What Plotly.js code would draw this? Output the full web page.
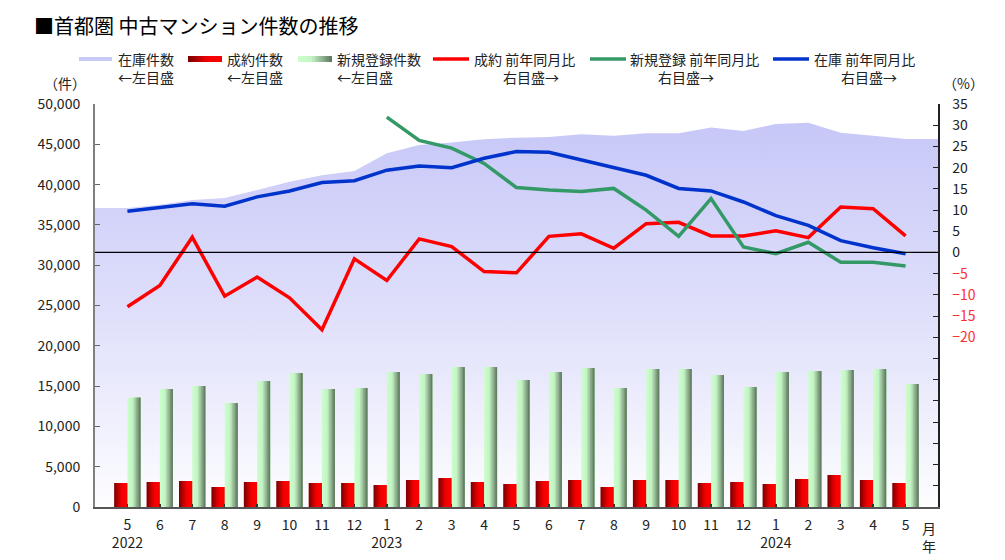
<!DOCTYPE html>
<html>
<head>
<meta charset="utf-8">
<script src="https://cdn.plot.ly/plotly-3.0.1.min.js"></script>
<style>
html,body{margin:0;padding:0;background:#fff;}
#chart{width:1005px;height:560px;}
</style>
</head>
<body>
<div id="chart"></div>
<script>
// ---------- data ----------
const months = ["5","6","7","8","9","10","11","12","1","2","3","4","5","6","7","8","9","10","11","12","1","2","3","4","5"];
const years  = ["2022","","","","","","","","2023","","","","","","","","","","","","2024","","","",""];
// 在庫件数 (left axis)
const inventory = [37100,37500,38100,38350,39330,40360,41150,41700,43880,44910,45230,45620,45820,45900,46240,46050,46360,46360,47080,46650,47520,47680,46440,46070,45660];
// 成約件数 (left axis)
const contracts = [2980,3100,3230,2480,3100,3230,2980,2980,2730,3350,3600,3100,2850,3230,3350,2480,3350,3350,2980,3100,2850,3470,3970,3350,2980];
// 新規登録件数 (left axis)
const newListings = [13560,14640,15010,12900,15630,16620,14640,14760,16750,16500,17370,17370,15760,16750,17250,14760,17120,17120,16380,14890,16750,16870,17000,17120,15260];
// 成約 前年同月比 (right axis, %)
const contractsYoY = [-12.8,-7.8,3.6,-10.3,-5.8,-10.7,-18.2,-1.5,-6.6,3.2,1.4,-4.5,-4.8,3.8,4.4,1.0,6.8,7.1,3.9,3.9,5.1,3.5,10.7,10.3,3.9];
// 新規登録 前年同月比 (right axis, %)
const newListingsYoY = [null,null,null,null,null,null,null,null,31.9,26.4,24.6,21.0,15.3,14.7,14.4,15.1,10.0,3.8,12.7,1.3,-0.3,2.4,-2.3,-2.3,-3.2];
// 在庫 前年同月比 (right axis, %)
const inventoryYoY = [9.7,10.6,11.5,10.9,13.1,14.5,16.5,16.9,19.4,20.4,20.0,22.2,23.8,23.6,21.8,20.2,18.2,15.1,14.5,11.9,8.7,6.4,2.8,1.1,-0.3];

const leftTicks = [0,5000,10000,15000,20000,25000,30000,35000,40000,45000,50000];
const rightTicks = [-60,-55,-50,-45,-40,-35,-30,-25,-20,-15,-10,-5,0,5,10,15,20,25,30,35];

// ---------- helpers ----------
const idx = months.map((_, i) => i);
const tickText = months.map((m, i) => years[i] ? m + "<br>" + years[i] : m);
const rightTickText = rightTicks.map(v => {
  if (v < -20) return "";
  if (v < 0) return '<span style="color:#ff3030">−' + Math.abs(v) + '</span>';
  return String(v);
});

function hex2rgb(h){ h=h.replace('#',''); return [parseInt(h.substr(0,2),16),parseInt(h.substr(2,2),16),parseInt(h.substr(4,2),16)]; }
function gradColor(stops, t){
  for (let i=0;i<stops.length-1;i++){
    const [t0,c0]=stops[i],[t1,c1]=stops[i+1];
    if (t<=t1){
      const u = (t-t0)/(t1-t0||1);
      const a=hex2rgb(c0), b=hex2rgb(c1);
      return 'rgb('+a.map((v,k)=>Math.round(v+(b[k]-v)*u)).join(',')+')';
    }
  }
  return stops[stops.length-1][1];
}
const redStops = [[0,'#780000'],[0.55,'#f00000'],[0.85,'#ff0000'],[1,'#f00000']];
const greenStops = [[0,'#ccffcc'],[0.4,'#c4f4c4'],[0.75,'#8aaa8a'],[1,'#587458']];

const traces = [];
// area (在庫件数) on main y axis – padded flat to both plot edges as in the reference
traces.push({
  type:'scatter', mode:'none', x:[-1].concat(idx, [25]),
  y:[inventory[0]].concat(inventory, [inventory[inventory.length-1]]),
  fill:'tozeroy',
  fillgradient:{type:'vertical', start:0, stop:47000,
    colorscale:[[0,'#fdfdff'],[0.5,'#e0e0fb'],[1,'#c8c8f8']]},
  hoverinfo:'skip', yaxis:'y'
});
// gradient bars: stacked-over strips, each running to the bar's right edge (no seams)
function stripBars(vals, off, w, stops, n){
  for (let k=0;k<n;k++){
    const start = off + k*w/n;
    traces.push({type:'bar', x:idx, y:vals, yaxis:'y2',
      offset: start, width: off + w - start,
      marker:{color: gradColor(stops, (k+0.5)/n), line:{width:0}},
      hoverinfo:'skip'});
  }
}
stripBars(contracts, -0.41, 0.41, redStops, 9);
stripBars(newListings, 0.0, 0.40, greenStops, 9);

// lines on right axis (y3)
traces.push({type:'scatter', mode:'lines', x:idx, y:contractsYoY, yaxis:'y3', line:{color:'#ff0000', width:3.5}, hoverinfo:'skip'});
traces.push({type:'scatter', mode:'lines', x:idx, y:newListingsYoY, yaxis:'y3', line:{color:'#339966', width:3.5}, hoverinfo:'skip'});
traces.push({type:'scatter', mode:'lines', x:idx, y:inventoryYoY, yaxis:'y3', line:{color:'#0033cc', width:3.5}, hoverinfo:'skip'});

// ---------- layout, custom legend ----------
const L=95, R=938, T=104, B=507;
const px = x => (x-L)/(R-L);
const py = y => (B-y)/(B-T);
const FONT = '"Noto Sans CJK JP", "Noto Sans", sans-serif';

const shapes = [
  {type:'line', xref:'paper', yref:'y3', x0:0, x1:1, y0:0, y1:0, line:{color:'#000', width:1.2}, layer:'above'}
];
const annotations = [];
function txt(text, x, y, opts){
  annotations.push(Object.assign({text, xref:'paper', yref:'paper', x:px(x), y:py(y),
    xanchor:'left', yanchor:'middle', showarrow:false,
    font:{family:FONT, size:14, color:'#222'}}, opts||{}));
}
function lineSym(x0,x1,y,color,w){
  shapes.push({type:'line', xref:'paper', yref:'paper', x0:px(x0), x1:px(x1), y0:py(y), y1:py(y), line:{color, width:w}});
}
function gradSym(x0,x1,y,h,stops,n){
  const dw=(x1-x0)/n;
  for (let k=0;k<n;k++){
    shapes.push({type:'rect', xref:'paper', yref:'paper', x0:px(x0+k*dw), x1:px(x1),
      y0:py(y-h/2), y1:py(y+h/2), line:{width:0}, fillcolor:gradColor(stops,(k+0.5)/n)});
  }
}
// title
txt('■首都圏 中古マンション件数の推移', 32, 25, {font:{family:FONT, size:20, color:'#000'}});
// legend
const r1 = 59, r2 = 77;
lineSym(79,112,59,'#c9c9f6',4);
txt('在庫件数',116,r1); txt('←左目盛',116,r2);
gradSym(188,222,59,6,redStops,12);
txt('成約件数',225,r1); txt('←左目盛',225,r2);
gradSym(298,332,59,6,greenStops,12);
txt('新規登録件数',335,r1); txt('←左目盛',335,r2);
lineSym(433,469,59,'#ff0000',3.5);
txt('成約 前年同月比',472,r1); txt('右目盛→',501,r2);
lineSym(590,626,59,'#339966',3.5);
txt('新規登録 前年同月比',628,r1); txt('右目盛→',656,r2);
lineSym(773,809,59,'#0033cc',3.5);
txt('在庫 前年同月比',812,r1); txt('右目盛→',839,r2);
// axis unit labels
txt('（件）',65,83,{xanchor:'center'});
txt('（%）',963,83,{xanchor:'center'});
// 月 / 年
annotations.push({text:'月<br>年', xref:'x', yref:'paper', x:24.72, y:py(516), xanchor:'center', yanchor:'top',
  showarrow:false, font:{family:FONT, size:14, color:'#222'}});

const layout = {
  width:1005, height:560,
  margin:{l:L, r:1005-R, t:T, b:560-B, pad:0},
  paper_bgcolor:'#ffffff', plot_bgcolor:'#ffffff',
  font:{family:FONT, size:14, color:'#222'},
  showlegend:false, barmode:'overlay',
  xaxis:{range:[-1,25], tickmode:'array', tickvals:idx, ticktext:tickText,
    ticks:'inside', ticklen:3, tickcolor:'#333', tickwidth:1.5,
    showline:true, linecolor:'#555', linewidth:2, showgrid:false, zeroline:false,
    tickfont:{family:FONT, size:14, color:'#222'}, ticklabelstandoff:4, fixedrange:true},
  yaxis:{range:[0,50000], tickmode:'array', tickvals:leftTicks, tickformat:',d',
    ticks:'inside', ticklen:5, tickcolor:'#666', showline:true, linecolor:'#808080', linewidth:2,
    showgrid:false, zeroline:false, tickfont:{family:FONT, size:14, color:'#222'},
    ticklabelstandoff:10, fixedrange:true},
  yaxis2:{overlaying:'y', range:[0,50000], visible:false, showgrid:false, zeroline:false, fixedrange:true},
  yaxis3:{overlaying:'y', side:'right', range:[-60,35], tickmode:'array', tickvals:rightTicks, ticktext:rightTickText,
    ticks:'inside', ticklen:5, tickcolor:'#222', showline:true, linecolor:'#222', linewidth:1.5,
    showgrid:false, zeroline:false, tickfont:{family:FONT, size:14, color:'#222'},
    ticklabelstandoff:10, fixedrange:true},
  shapes, annotations
};

Plotly.newPlot('chart', traces, layout, {displayModeBar:false, staticPlot:true});
</script>
</body>
</html>
